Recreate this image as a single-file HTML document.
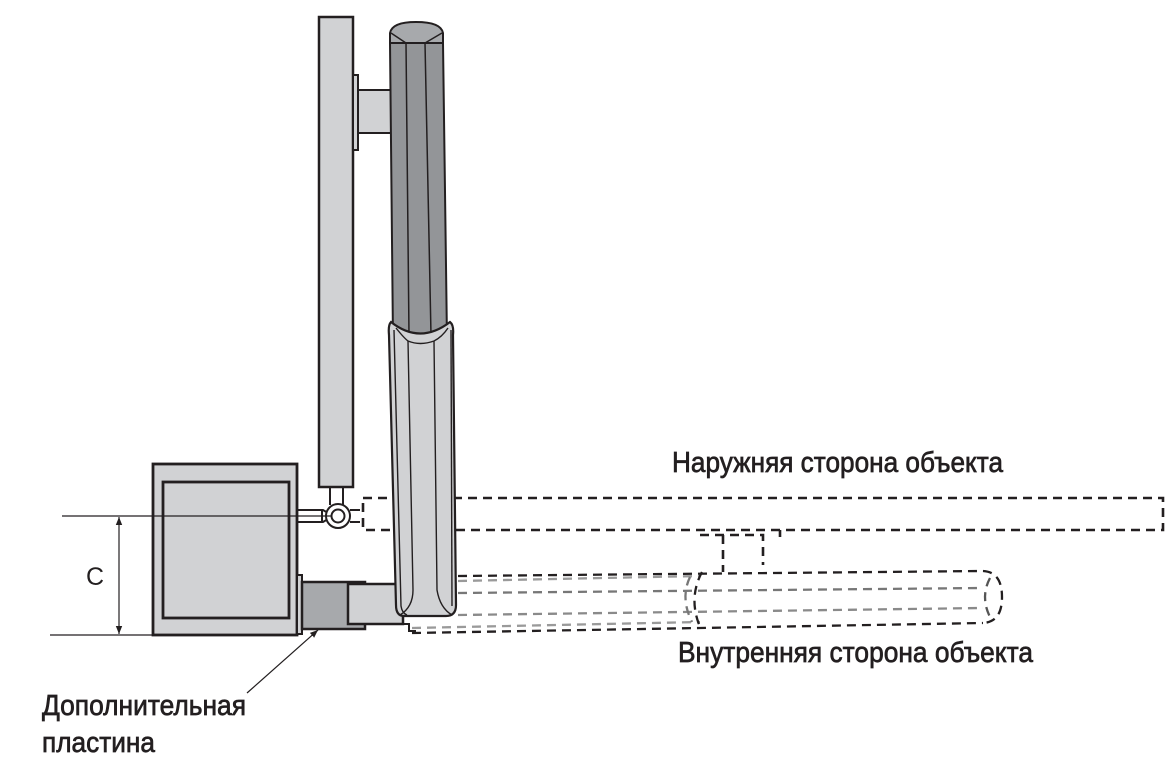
<!DOCTYPE html>
<html><head><meta charset="utf-8"><style>
html,body{margin:0;padding:0;background:#fff;}
svg{display:block;}
text{font-family:"Liberation Sans",sans-serif;fill:#231f20;}
.lb{stroke:#231f20;stroke-width:0.7;}
</style></head><body>
<svg width="1175" height="778" viewBox="0 0 1175 778" xmlns="http://www.w3.org/2000/svg">
<defs>
<marker id="ah" viewBox="0 0 10 10" refX="10" refY="5" markerWidth="8" markerHeight="8" orient="auto-start-reverse" markerUnits="userSpaceOnUse">
<path d="M0,1 L10,5 L0,9 Z" fill="#231f20"/></marker>
</defs>

<!-- dashed outer (open) position -->
<g fill="none" stroke="#231f20" stroke-width="2.6" stroke-dasharray="9 6">
<path d="M363,498 H1163 V530 H363 Z"/>
<path d="M700,535 H763 V565"/>
<path d="M723,535 V572"/>
<path d="M780,530 V537"/>
</g>

<!-- dashed inner position pole -->
<g fill="none" stroke-width="2.3" stroke-dasharray="9 6">
<path d="M458,576 L983,571" stroke="#231f20"/>
<path d="M458,581 L700,576" stroke="#9a9a9a"/>
<path d="M458,593 L983,588" stroke="#777"/>
<path d="M458,615 L983,608" stroke="#8a8a8a"/>
<path d="M412,628 L700,622" stroke="#9a9a9a"/>
<path d="M412,633 L700,628 L983,623" stroke="#231f20"/>
<path d="M983,571 Q1002,572 1002,597 Q1002,622 983,623" stroke="#231f20"/>
<path d="M990,578 Q980,597 990,617" stroke="#555"/>
<path d="M702,572 Q688,598 700,627" stroke="#231f20"/>
<path d="M690,577 Q680,598 692,622" stroke="#777"/>
</g>

<!-- actuator -->
<rect x="319" y="17" width="34" height="470" fill="#d1d2d4" stroke="#231f20" stroke-width="2.5"/>
<rect x="353" y="75" width="5" height="75" fill="#d1d2d4" stroke="#231f20" stroke-width="2"/>
<rect x="358" y="90" width="36" height="43" fill="#d1d2d4" stroke="#231f20" stroke-width="2"/>

<!-- hinge -->
<g stroke="#231f20" stroke-width="2" fill="#fff">
<line x1="330" y1="487" x2="330" y2="505"/>
<line x1="343" y1="487" x2="343" y2="505"/>
<path d="M297,510 H323 L328,513 M297,522 H323 L328,519" fill="none"/>
<line x1="322" y1="510" x2="322" y2="522"/>
<circle cx="338" cy="516" r="12"/>
<circle cx="338" cy="516" r="6.5"/>
<line x1="350" y1="510" x2="360" y2="510"/>
<line x1="350" y1="522" x2="360" y2="522"/>
</g>

<!-- motor box -->
<rect x="153" y="464" width="144" height="171" fill="#d1d2d4" stroke="#231f20" stroke-width="2.8"/>
<rect x="163" y="482" width="126" height="136" fill="#d1d2d4" stroke="#231f20" stroke-width="2.8"/>
<rect x="297" y="575" width="5" height="59" fill="#d1d2d4" stroke="#231f20" stroke-width="2"/>
<rect x="302" y="582" width="63" height="47" fill="#a7a9ac" stroke="#231f20" stroke-width="2.5"/>
<rect x="348" y="584" width="55" height="40" fill="#d1d2d4" stroke="#231f20" stroke-width="2.5"/>
<path d="M365,624 H409 V631 H416" fill="none" stroke="#231f20" stroke-width="2"/>

<!-- pole dark part -->
<polygon points="390,43 443,43 447,340 393,340" fill="#939598" stroke="#231f20" stroke-width="2"/>
<path d="M390,43 L390,33 Q392,22 416,22 Q441,22 443,33 L443,43 Z" fill="#a7a9ac" stroke="#231f20" stroke-width="2"/>
<g fill="none" stroke="#231f20" stroke-width="1.5">
<path d="M391,33 L406,43 L409,335"/>
<path d="M442,33 L425,43 L431,335"/>
<line x1="390" y1="43" x2="443" y2="43"/>
</g>

<!-- sleeve -->
<path d="M391,322 Q420,345 450,322 Q454,325 453,335 L456,605 Q456,616 446,616 L404,616 Q396,616 396,605 L389,335 Q388,325 391,322 Z" fill="#d1d2d4" stroke="#231f20" stroke-width="2.2"/>
<g fill="none" stroke="#231f20" stroke-width="1.4">
<path d="M394,330 L401,606 Q402,613 407,615"/>
<path d="M451,330 L452,606"/>
<path d="M396,328 Q404,338 408,341 Q420,346 434,341 Q442,337 448,328"/>
<path d="M408,341 L413,590 Q413,607 400,615"/>
<path d="M434,341 L437,590 Q440,608 452,615"/>
</g>

<!-- dimension lines -->
<g stroke="#231f20" stroke-width="1.2" fill="none">
<line x1="62" y1="516" x2="332" y2="516"/>
<line x1="50" y1="635" x2="153" y2="635"/>
<line x1="119" y1="517" x2="119" y2="634" marker-start="url(#ah)" marker-end="url(#ah)"/>
<line x1="247" y1="693" x2="318" y2="630" marker-end="url(#ah)"/>
</g>

<text x="86" y="585" font-size="25">C</text>
<text class="lb" x="672" y="472" font-size="29" textLength="331" lengthAdjust="spacingAndGlyphs">Наружняя сторона объекта</text>
<text class="lb" x="678" y="662" font-size="29" textLength="355" lengthAdjust="spacingAndGlyphs">Внутренняя сторона объекта</text>
<text class="lb" x="42" y="715" font-size="29" textLength="204" lengthAdjust="spacingAndGlyphs">Дополнительная</text>
<text class="lb" x="42" y="752" font-size="29" textLength="113" lengthAdjust="spacingAndGlyphs">пластина</text>
</svg>
</body></html>
